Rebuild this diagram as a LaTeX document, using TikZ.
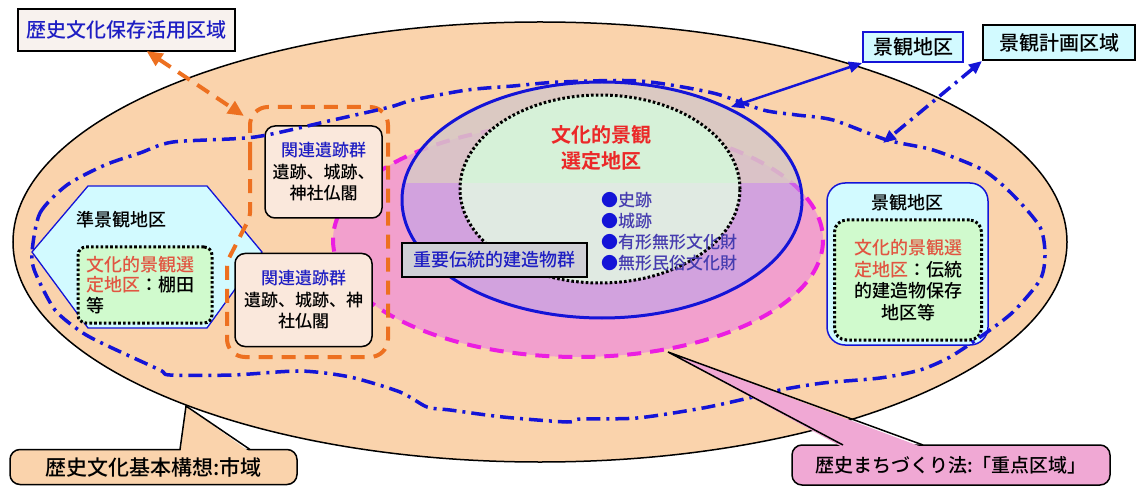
\documentclass[tikz,border=0pt]{standalone}
\usepackage{fontspec}
\setmainfont{Noto Sans CJK JP}[UprightFont={* Medium}, BoldFont={* Bold}]
\usetikzlibrary{arrows.meta,shapes.geometric}
\definecolor{peach}{RGB}{250,211,172}
\definecolor{pinkfill}{RGB}{242,160,205}
\definecolor{magdash}{RGB}{235,30,225}
\definecolor{bblue}{RGB}{20,20,215}
\definecolor{lav}{RGB}{180,165,240}
\definecolor{topgray}{RGB}{214,200,198}
\definecolor{mint}{RGB}{214,241,216}
\definecolor{mintlow}{RGB}{224,234,226}
\definecolor{cyanfill}{RGB}{210,250,255}
\definecolor{greenfill}{RGB}{208,250,205}
\definecolor{relfill}{RGB}{250,232,220}
\definecolor{orng}{RGB}{237,112,32}
\definecolor{txtblue}{RGB}{30,30,195}
\definecolor{txtred}{RGB}{235,40,40}
\definecolor{txtred2}{RGB}{225,85,65}
\definecolor{bultxt}{RGB}{70,60,175}
\definecolor{graybox}{RGB}{208,208,214}
\definecolor{calpink}{RGB}{240,168,212}
\definecolor{lblfill}{RGB}{248,242,238}
\newcommand\jfs[2]{\fontsize{#1}{#2}\selectfont}
\tikzset{
  ell/.style={ellipse, inner sep=0pt, minimum width=#1},
  dotline/.style={draw=black, line width=3pt, dash pattern=on 2.6pt off 2.2pt},
  dashdot/.style={draw=bblue, line width=3.5pt, dash pattern=on 14pt off 6pt on 3pt off 6pt},
  orangedash/.style={draw=orng, line width=4pt, dash pattern=on 14pt off 9pt},
  magentadash/.style={draw=magdash, line width=4pt, dash pattern=on 14pt off 9pt},
  relbox/.style={draw=black, line width=1.5pt, fill=relfill, rounded corners=10pt, inner sep=0pt, align=center, font=\jfs{17}{21.5}},
  callout/.style={draw=black, line width=1.5pt, rounded corners=10pt, inner sep=0pt},
  >={Triangle[length=13pt,width=11pt]}
}
\begin{document}
\begin{tikzpicture}[x=1pt,y=-1pt]
\useasboundingbox (0,0) rectangle (1137,486);
% city area
\node[ell=1054pt, minimum height=440pt, draw=black, line width=1.5pt, fill=peach] (city) at (540,242) {};
% pink area (rekishi machizukuri)
\node[ell=490pt, minimum height=234pt, fill=pinkfill] (pinkell) at (578,240) {};
\draw[magentadash] (578,240) ellipse [x radius=245, y radius=117];
% blue landscape district ellipse
\begin{scope}
  \clip (602,200) ellipse [x radius=200, y radius=118];
  \fill[lav, opacity=0.5] (400,183) rectangle (805,320);
  \fill[topgray, opacity=0.85] (400,80) rectangle (805,183);
\end{scope}
\node[ell=400pt, minimum height=236pt, draw=bblue, line width=3pt] (blueell) at (602,200) {};
% inner dotted ellipse
\begin{scope}
  \clip (600,189) ellipse [x radius=140, y radius=94];
  \fill[mintlow] (455,90) rectangle (745,290);
  \fill[mint] (455,90) rectangle (745,183);
\end{scope}
\node[ell=280pt, minimum height=188pt, dotline] (innerell) at (600,189) {};
\node[font=\jfs{20}{26}\bfseries, text=txtred, align=center] (senchi) at (601,148) {文化的景観\\選定地区};
\node[font=\jfs{17}{21}, text=bultxt, align=left, anchor=north west, inner sep=0pt] (bullets) at (601,192)
  {\textcolor{bblue}{●}史跡\\\textcolor{bblue}{●}城跡\\\textcolor{bblue}{●}有形無形文化財\\\textcolor{bblue}{●}無形民俗文化財};
% juyo dento box
\node[draw=black, line width=2pt, fill=graybox, minimum width=185pt, minimum height=33pt, inner sep=0pt,
  font=\jfs{18}{20}, text=txtblue] (juyo) at (494,260) {重要伝統的建造物群};
% left hexagon
\coordinate (hexL) at (32,252);
\draw[draw=bblue, line width=1.3pt, fill=cyanfill] (88,186) -- (207,186) -- (262,252) -- (207,328) -- (88,328) -- (hexL) -- cycle;
\node[font=\jfs{18}{20}] (junkei) at (121,220) {準景観地区};
\node[dotline, fill=greenfill, rounded corners=8pt, minimum width=134pt, minimum height=76pt, inner sep=0pt] (hexin) at (145,285) {};
\node[font=\jfs{18}{20.5}, align=left, anchor=west, inner sep=0pt] (hextxt) at (86,285)
  {\textcolor{txtred2}{文化的景観選}\\\textcolor{txtred2}{定地区}：棚田\\等};
% related heritage boxes
\node[relbox, minimum width=117pt, minimum height=92pt] (rel1) at (323.5,172)
  {\textcolor{txtblue}{関連遺跡群}\\遺跡、城跡、\\神社仏閣};
\node[relbox, minimum width=137pt, minimum height=93pt] (rel2) at (303.5,300)
  {\textcolor{txtblue}{関連遺跡群}\\遺跡、城跡、神\\社仏閣};
% right landscape district box
\node[draw=bblue, line width=1.5pt, fill=cyanfill, rounded corners=18pt, minimum width=161pt, minimum height=162pt, inner sep=0pt] (kbox) at (907.5,264) {};
\node[font=\jfs{18}{20}] (kboxt) at (907,203) {景観地区};
\node[dotline, fill=greenfill, rounded corners=12pt, minimum width=147pt, minimum height=120pt, inner sep=0pt] (kin) at (908,280) {};
\node[font=\jfs{18}{21.5}, align=center, inner sep=0pt] (ktxt) at (908,280)
  {\textcolor{txtred2}{文化的景観選}\\\textcolor{txtred2}{定地区}：伝統\\的建造物保存\\地区等};
% orange dashed area (historic culture preservation)
\draw[orangedash] (250,160) [rounded corners=18pt] -- (250,107) -- (388,107) -- (388,357) -- (227,357) -- (227,300)
  [rounded corners=4pt] -- (227,262) -- (250,217) -- cycle;
% landscape plan area (dash-dot)
\draw[dashdot] plot[smooth cycle, tension=0.45] coordinates {
  (hexL) (40,213) (67,185) (105,165) (140,153) (173,142) (255,137) (333,120) (390,107) (413,100) (467,90)
  (513,86) (560,82) (640,81) (713,93) (763,110) (797,115) (833,120) (887,140) (933,150) (983,170)
  (1013,195) (1040,227) (1045,255) (1040,280) (1013,312) (983,335) (950,357) (920,370) (880,378)
  (823,383) (780,390) (753,397) (703,408) (637,418) (580,419) (567,422) (503,417) (450,410) (427,407)
  (400,392) (350,377) (300,371) (233,375) (170,375) (160,370) (110,347) (83,333) (55,310) (35,272)};
% top labels
\node[draw=black, line width=2pt, fill=lblfill, minimum width=217pt, minimum height=42pt, inner sep=0pt,
  font=\jfs{20}{22}, text=txtblue] (hozon) at (126.5,30) {歴史文化保存活用区域};
\node[draw=bblue, line width=2pt, fill=cyanfill, minimum width=100pt, minimum height=30pt, inner sep=0pt,
  font=\jfs{20}{22}] (keikan) at (913,47) {景観地区};
\node[draw=black, line width=2pt, fill=cyanfill, minimum width=152pt, minimum height=35pt, inner sep=0pt,
  font=\jfs{20}{22}] (keikaku) at (1059,42.5) {景観計画区域};
% connectors
\coordinate (orTip) at (244,116);
\draw[orangedash, {Triangle[length=16pt,width=14pt]}-{Triangle[length=16pt,width=14pt]}] ([xshift=20pt,yshift=1pt]hozon.south) -- (orTip);
\coordinate (blTip) at (731,107);
\draw[bblue, line width=2.5pt, <->] (keikan.south west) -- (blTip);
\coordinate (ddTip) at (883,143);
\draw[dashdot, <->] (keikaku.south west) -- (ddTip);
% callouts
\node[callout, fill=peach, minimum width=287pt, minimum height=35pt, font=\jfs{21}{23}] (kihon) at (153.5,467) {歴史文化基本構想:市域};
\coordinate (kihonTip) at (186,406);
\fill[peach] (180.5,452) -- (kihonTip) -- (250,452) -- cycle;
\draw[line width=1.5pt, line join=miter] (180,449.5) -- (kihonTip) -- (250,449.5);
\node[callout, fill=calpink, minimum width=318pt, minimum height=40pt, font=\jfs{19}{21}] (machi) at (951,465) {歴史まちづくり法:「重点区域」};
\coordinate (machiTip) at (668,352);
\fill[calpink] (843,447.5) -- (machiTip) -- (923,447.5) -- cycle;
\draw[line width=1.5pt, line join=miter] (843,445) -- (machiTip) -- (923,445);
\end{tikzpicture}
\end{document}
